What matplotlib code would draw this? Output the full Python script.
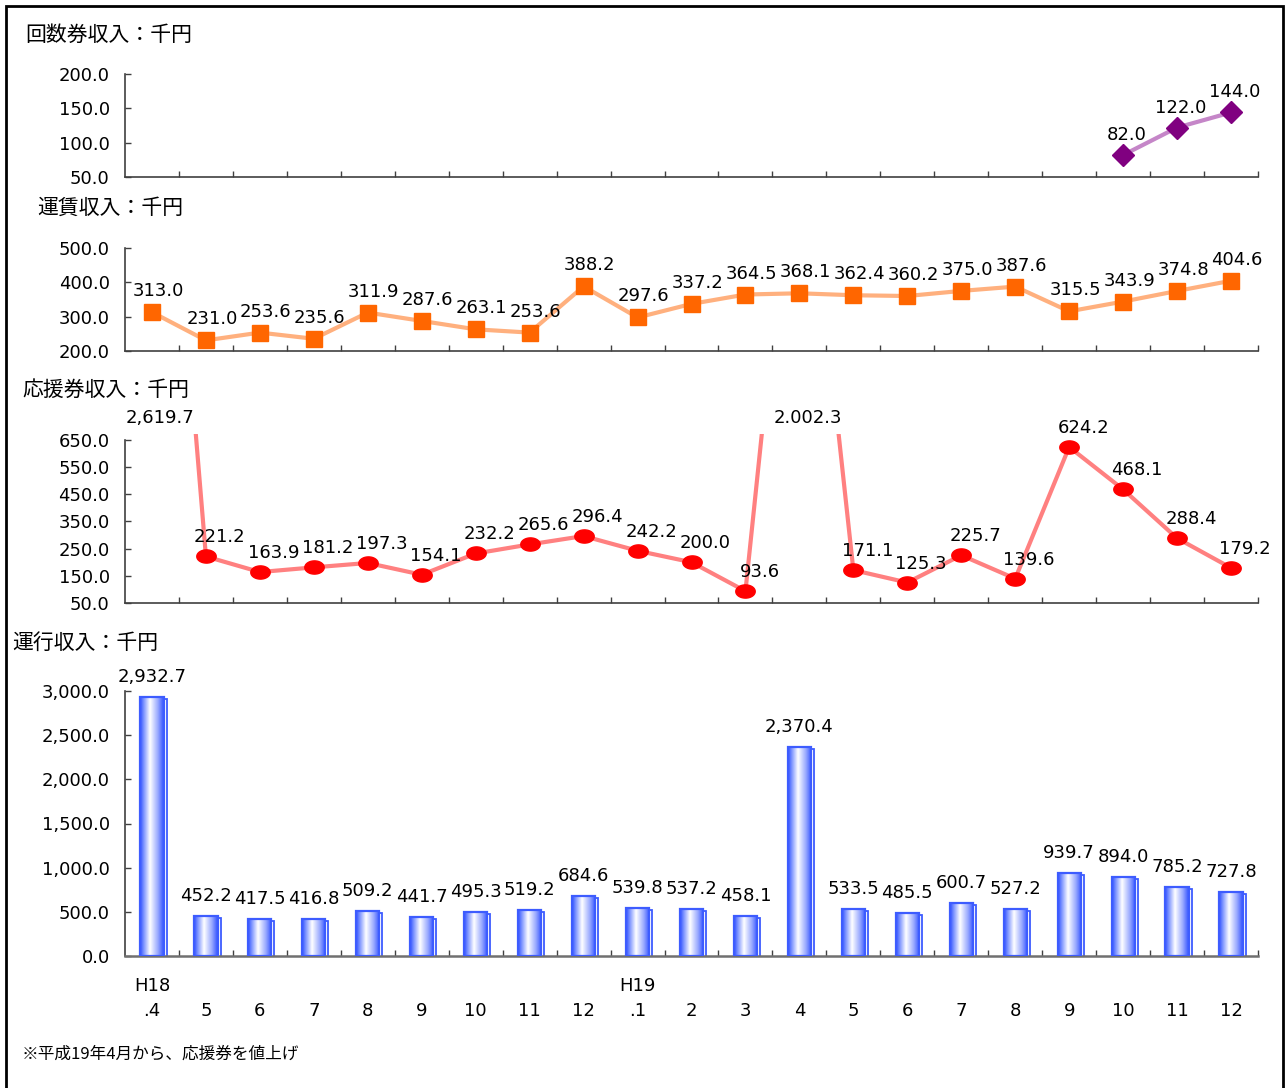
import numpy as np
import matplotlib
matplotlib.use("Agg")
import matplotlib.pyplot as plt
from matplotlib.colors import LinearSegmentedColormap
from matplotlib.path import Path
from matplotlib.patches import Rectangle
import matplotlib.transforms as mtransforms

# ---------------- data ----------------
months = ["H18\n.4", "5", "6", "7", "8", "9", "10", "11", "12",
          "H19\n.1", "2", "3", "4", "5", "6", "7", "8", "9", "10", "11", "12"]

kaisuken = [np.nan] * 18 + [82.0, 122.0, 144.0]
unchin = [313.0, 231.0, 253.6, 235.6, 311.9, 287.6, 263.1, 253.6, 388.2, 297.6,
          337.2, 364.5, 368.1, 362.4, 360.2, 375.0, 387.6, 315.5, 343.9, 374.8, 404.6]
ouenken = [2619.7, 221.2, 163.9, 181.2, 197.3, 154.1, 232.2, 265.6, 296.4, 242.2,
           200.0, 93.6, 2002.3, 171.1, 125.3, 225.7, 139.6, 624.2, 468.1, 288.4, 179.2]
unkou = [2932.7, 452.2, 417.5, 416.8, 509.2, 441.7, 495.3, 519.2, 684.6, 539.8,
         537.2, 458.1, 2370.4, 533.5, 485.5, 600.7, 527.2, 939.7, 894.0, 785.2, 727.8]

titles = ["回数券収入：千円", "運賃収入：千円", "応援券収入：千円", "運行収入：千円"]
footnote = "※平成19年4月から、応援券を値上げ"

ticks1 = [50, 100, 150, 200]
ticks2 = [200, 300, 400, 500]
ticks3 = [50, 150, 250, 350, 450, 550, 650]
ticks4 = [0, 500, 1000, 1500, 2000, 2500, 3000]

ouen_labels = [f"{v:,.1f}" for v in ouenken]
ouen_labels[12] = "2.002.3"

# ---------------- figure ----------------
W, H = 1287, 1088
fig = plt.figure(figsize=(W / 100, H / 100), dpi=100)
fig.patch.set_facecolor("white")

CJK = ["Noto Sans CJK JP", "DejaVu Sans"]
NUM = ["DejaVu Sans"]

AX_L, AX_R = 125, 1258


def add_ax(top, bottom):
    return fig.add_axes([AX_L / W, 1 - bottom / H, (AX_R - AX_L) / W, (bottom - top) / H])


x = np.arange(len(months))
n = len(months)


def style_axes(ax, yticks, ylim, fmt):
    ax.set_xlim(-0.5, n - 0.5)
    ax.set_ylim(*ylim)
    ax.set_xticks(np.arange(0.5, n, 1.0))
    ax.set_xticklabels([])
    ax.set_yticks(yticks)
    ax.set_yticklabels([fmt(t) for t in yticks], fontfamily=NUM, fontsize=13)
    ax.tick_params(axis="x", direction="in", length=4, width=1, color="#404040")
    ax.tick_params(axis="y", direction="in", length=4, width=1, color="#404040", pad=11)
    for s in ["top", "right"]:
        ax.spines[s].set_visible(False)
    for s in ["left", "bottom"]:
        ax.spines[s].set_color("#404040")
        ax.spines[s].set_linewidth(1.2)
    ax.patch.set_alpha(0)


fmt1 = lambda t: f"{t:,.1f}"

# ellipse marker
tt = np.linspace(0, 2 * np.pi, 40)
ell = Path(np.column_stack([np.cos(tt), 0.68 * np.sin(tt)]), closed=True)


def line_panel(ax, vals, labels, lc, mc, marker, ms, dx, dy):
    vals = np.asarray(vals, dtype=float)
    top = ax.get_ylim()[1]
    ax.plot(x, vals, color=lc, lw=3, zorder=2, solid_capstyle="round")
    shown = np.where(vals > top, np.nan, vals)
    ax.plot(x, shown, linestyle="none", marker=marker, ms=ms, mfc=mc, mec=mc, zorder=3,
            clip_on=False)
    for i, v in enumerate(vals):
        if np.isnan(v):
            continue
        if v > top:
            ax.annotate(labels[i], xy=(x[i], 1.0), xycoords=("data", "axes fraction"),
                        xytext=(8, 16), textcoords="offset pixels", ha="center", va="center",
                        fontsize=13, fontfamily=NUM)
        else:
            ax.annotate(labels[i], xy=(x[i], v), xytext=(dx, dy), textcoords="offset pixels",
                        ha="center", va="center", fontsize=13, fontfamily=NUM)


# panel 1
ax1 = add_ax(74, 177)
style_axes(ax1, ticks1, (50, 200), fmt1)
line_panel(ax1, kaisuken, [f"{v:,.1f}" for v in kaisuken], "#c586c8", "#800080", "D", 11, 4, 20)

# panel 2
ax2 = add_ax(248, 351)
style_axes(ax2, ticks2, (200, 500), fmt1)
line_panel(ax2, unchin, [f"{v:,.1f}" for v in unchin], "#ffb07e", "#ff6600", "s", 12, 6, 21)

# panel 3
ax3 = add_ax(434, 603)
style_axes(ax3, ticks3, (50, 672), fmt1)
ax3.spines["left"].set_bounds(50, 650)
line_panel(ax3, ouenken, ouen_labels, "#ff8080", "#ff0000", ell, 14, 14, 19)

# panel 4 (bars)
ax4 = add_ax(691, 956)
style_axes(ax4, ticks4, (0, 3000), fmt1)
ax4.spines["bottom"].set_color("#707070")
ax4.spines["bottom"].set_linewidth(1.8)
bw = 0.43
cmap = LinearSegmentedColormap.from_list(
    "cyl", [(0, "#3050ff"), (0.12, "#6a84ff"), (0.42, "#ffffff"), (0.75, "#98a8ff"), (1, "#3050ff")])
grad = np.linspace(0, 1, 256).reshape(1, -1)
shift = ax4.transData + mtransforms.ScaledTranslation(3 / 100, -2 / 100, fig.dpi_scale_trans)
ax4.bar(x, unkou, width=bw, fill=False, edgecolor="#3d5cff", lw=1.3, zorder=1.5, transform=shift)
bars = ax4.bar(x, unkou, width=bw, color="none", edgecolor="#3d5cff", lw=1.6, zorder=3)
for b in bars:
    x0, w, h = b.get_x(), b.get_width(), b.get_height()
    im = ax4.imshow(grad, extent=[x0, x0 + w, 0, h], cmap=cmap, aspect="auto",
                    zorder=2, interpolation="bilinear")
    im.set_clip_path(b)
ax4.set_xlim(-0.5, n - 0.5)
ax4.set_ylim(0, 3000)
for i, v in enumerate(unkou):
    ax4.annotate(f"{v:,.1f}", xy=(x[i], v), xytext=(0, 20), textcoords="offset pixels",
                 ha="center", va="center", fontsize=13, fontfamily=NUM)
xl_trans = mtransforms.blended_transform_factory(ax4.transData, fig.transFigure)
for i, m in enumerate(months):
    ax4.text(x[i], 1 - 1020 / H, m, transform=xl_trans, ha="center", va="bottom",
             multialignment="center", fontsize=13, fontfamily=NUM, linespacing=1.5)

# titles
for (tx, ty), t in zip([(25, 35), (37, 208), (22, 390), (12, 643)], titles):
    fig.text(tx / W, 1 - ty / H, t, ha="left", va="center", fontsize=15, fontfamily=CJK)

fig.text(22 / W, 1 - 1054 / H, footnote, ha="left", va="center", fontsize=12, fontfamily=CJK)

# frame
fig.add_artist(Rectangle((6 / W, -0.02), (1283 - 6) / W, 1.02 - 6 / H, transform=fig.transFigure,
                         fill=False, edgecolor="black", lw=2))

fig.savefig("out.png", dpi=100)
